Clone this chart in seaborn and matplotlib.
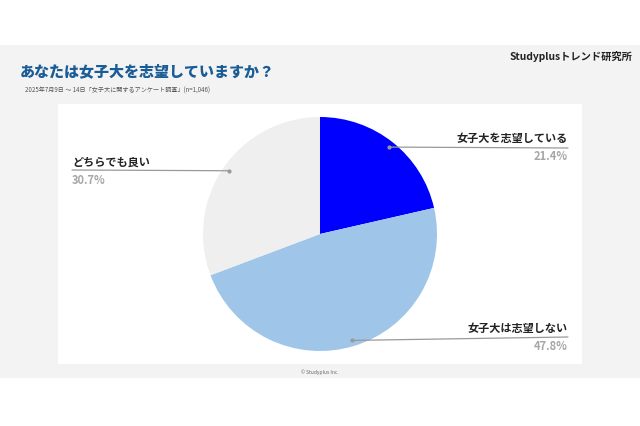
import numpy as np
import matplotlib.pyplot as plt
import seaborn as sns
from matplotlib.patches import Rectangle
from matplotlib.lines import Line2D

# data
labels = ["女子大を志望している", "女子大は志望しない", "どちらでも良い"]
shares = [21.4, 47.8, 30.7]
colors = ["#0000ff", "#9fc5e8", "#efefef"]
pct_labels = ["21.4%", "47.8%", "30.7%"]

title = "あなたは女子大を志望していますか？"
subtitle = "2025年7月9日 〜 14日「女子大に関するアンケート調査」(n=1,046)"
brand = "Studyplusトレンド研究所"
footer = "© Studyplus Inc."

sns.set_theme(style="white")
plt.rcParams["font.family"] = ["Noto Sans CJK JP", "DejaVu Sans"]

W, H = 640, 426
fig = plt.figure(figsize=(W / 100, H / 100), dpi=100)
fig.patch.set_facecolor("white")


def px(x, y):
    # pixel coords from top-left -> figure fraction
    return x / W, 1 - y / H


# background panels
fig.patches.append(Rectangle(px(0, 378), 1, (378 - 45) / H, transform=fig.transFigure,
                             facecolor="#f3f3f3", edgecolor="none", zorder=-2))
fig.patches.append(Rectangle(px(58, 364), (582 - 58) / W, (364 - 104) / H, transform=fig.transFigure,
                             facecolor="white", edgecolor="none", zorder=-1))

# pie axes: centre (320, 234), radius 117 px
cx, cy, r = 320, 234, 117
ax = fig.add_axes([(cx - r) / W, (H - cy - r) / H, 2 * r / W, 2 * r / H])
ax.set_zorder(2)
wedges, _ = ax.pie(shares, colors=colors, startangle=90, counterclock=False,
                   wedgeprops=dict(linewidth=0))
ax.set_xlim(-1, 1)
ax.set_ylim(-1, 1)
ax.set_aspect("equal")
ax.axis("off")

# labels: (text x, name y, pct y, line end x, line end y, alignment)
label_pos = [
    (568, 138, 156, 568, 148, "right"),
    (568, 328, 346, 568, 337, "right"),
    (72, 162, 180, 72, 170, "left"),
]

fig.canvas.draw()
for w, name, pct, (tx, ny, py, lx, ly, ha) in zip(wedges, labels, pct_labels, label_pos):
    mid = np.deg2rad((w.theta1 + w.theta2) / 2)
    ax_pt = ax.transData.transform((0.95 * np.cos(mid), 0.95 * np.sin(mid)))
    ex, ey = lx, H - ly
    fig.add_artist(Line2D([ax_pt[0], ex], [ax_pt[1], ey], transform=None,
                          color="#999999", linewidth=0.9, zorder=5))
    fig.add_artist(Line2D([ax_pt[0]], [ax_pt[1]], transform=None, marker="o",
                          markersize=2, color="#999999", zorder=5))
    fig.text(*px(tx, ny), name, ha=ha, va="center", fontsize=8, fontweight="bold", color="#222222")
    fig.text(*px(tx, py), pct, ha=ha, va="center", fontsize=8, fontweight="bold", color="#a6a6a6")

fig.text(*px(20, 72), title, ha="left", va="center", fontsize=10.8, fontweight="black", color="#1a5c96")
fig.text(*px(632, 57), brand, ha="right", va="center", fontsize=7.4, fontweight="bold", color="#222222")
fig.text(*px(25, 91), subtitle, ha="left", va="center", fontsize=4.4, color="#555555")
fig.text(*px(320, 372), footer, ha="center", va="center", fontsize=3.5, color="#666666")

fig.savefig("out.png", dpi=100)
